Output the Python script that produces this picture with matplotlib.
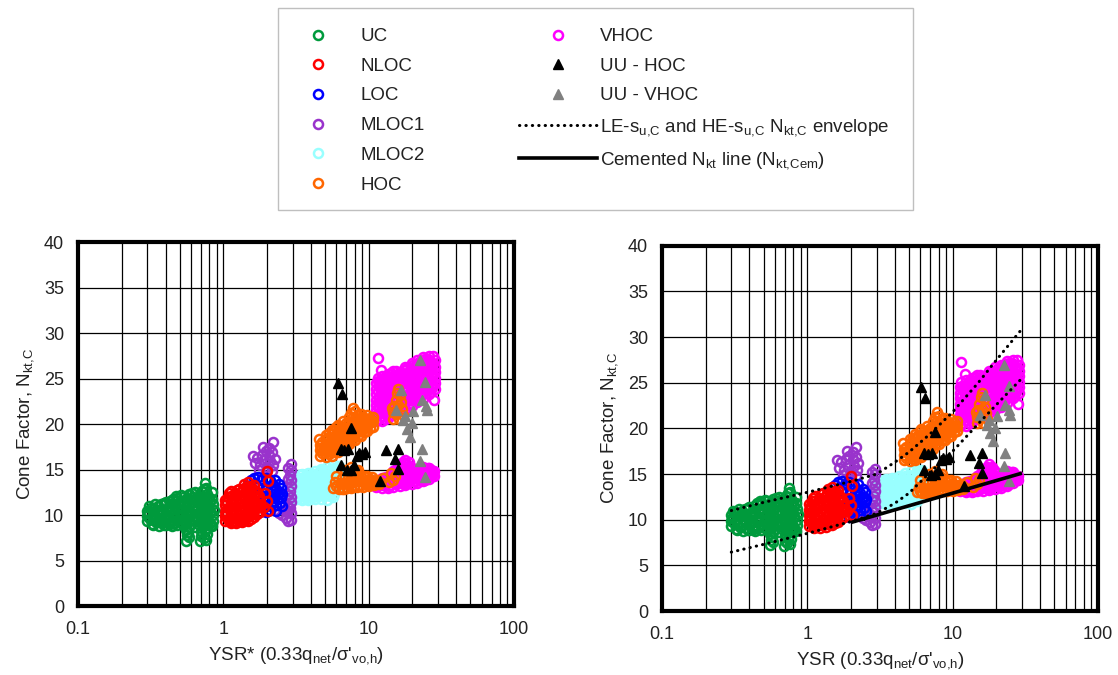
import numpy as np
import matplotlib
matplotlib.use("Agg")
import matplotlib.pyplot as plt
from matplotlib.lines import Line2D
from matplotlib.patches import Rectangle
from matplotlib.ticker import LogLocator, NullFormatter

plt.rcParams['font.family'] = ['Liberation Sans', 'DejaVu Sans']
plt.rcParams['mathtext.default'] = 'regular'

# --- data: (YSR, Nkt,C) pairs per soil class ---
uc = [
    (0.30, 9.3), (0.30, 9.9), (0.30, 10.5), (0.31, 11.0), (0.315, 9.6),
    (0.33, 8.9), (0.33, 9.5), (0.33, 10.1), (0.33, 10.7), (0.34, 11.2),
    (0.345, 9.2), (0.35, 10.4), (0.36, 8.8), (0.36, 9.4), (0.37, 10.0),
    (0.36, 10.6), (0.37, 11.2), (0.38, 9.1), (0.385, 10.3),
    (0.40, 8.9), (0.40, 9.5), (0.40, 10.1), (0.41, 10.7), (0.40, 11.4),
    (0.42, 9.2), (0.42, 11.0), (0.44, 8.8), (0.44, 9.4), (0.45, 10.0),
    (0.44, 10.6), (0.44, 11.2), (0.45, 11.8), (0.46, 9.7), (0.465, 10.9),
    (0.48, 8.9), (0.49, 9.5), (0.48, 10.1), (0.48, 10.7), (0.49, 11.3),
    (0.48, 11.9), (0.505, 9.2), (0.51, 10.4), (0.51, 11.6),
    (0.55, 7.2), (0.56, 7.8), (0.55, 8.4), (0.53, 8.9), (0.54, 9.5),
    (0.53, 10.1), (0.53, 10.7), (0.54, 11.3), (0.53, 12.0),
    (0.555, 9.0), (0.56, 10.2), (0.56, 11.5), (0.58, 8.7), (0.58, 9.3),
    (0.59, 9.9), (0.58, 10.5), (0.58, 11.1), (0.59, 11.7), (0.58, 12.3),
    (0.61, 9.6), (0.61, 10.8), (0.62, 12.0), (0.64, 8.7), (0.64, 9.3),
    (0.65, 9.9), (0.64, 10.5), (0.64, 11.1), (0.65, 11.7), (0.64, 12.5),
    (0.67, 9.0), (0.67, 10.2), (0.67, 11.4), (0.69, 7.1), (0.70, 7.7),
    (0.70, 8.3), (0.71, 8.9), (0.70, 9.5), (0.70, 10.1), (0.71, 10.7),
    (0.70, 11.3), (0.70, 11.9), (0.71, 12.6), (0.735, 9.5), (0.74, 10.7),
    (0.74, 12.0), (0.76, 7.3), (0.77, 7.9), (0.77, 8.6), (0.78, 9.2),
    (0.77, 9.8), (0.77, 10.4), (0.78, 11.0), (0.77, 11.6), (0.77, 12.3),
    (0.76, 13.0), (0.75, 13.5), (0.81, 9.1), (0.81, 10.3), (0.81, 11.5),
    (0.84, 8.8), (0.85, 9.4), (0.85, 10.0), (0.86, 10.6), (0.85, 11.2),
    (0.84, 11.8), (0.83, 12.5),
    (0.305, 10.2), (0.32, 10.8), (0.325, 9.0), (0.345, 9.8), (0.355, 11.0),
    (0.37, 9.7), (0.38, 10.6), (0.39, 11.3), (0.39, 8.9), (0.41, 9.8),
    (0.42, 10.4), (0.43, 11.5), (0.43, 9.0), (0.46, 9.1), (0.46, 10.3),
    (0.47, 11.6), (0.47, 12.1), (0.50, 9.8), (0.50, 11.0), (0.51, 12.2),
    (0.55, 9.3), (0.55, 10.5), (0.56, 11.9), (0.60, 9.0), (0.60, 10.2),
    (0.61, 11.4), (0.61, 12.4), (0.66, 9.6), (0.66, 10.8), (0.67, 12.0),
    (0.72, 9.2), (0.73, 10.4), (0.73, 11.6), (0.74, 12.9), (0.79, 9.5),
    (0.80, 10.7), (0.80, 11.9), (0.82, 8.9), (0.58, 7.6), (0.73, 7.5),
    (0.57, 8.1), (0.75, 8.2),
]

nloc = [
    (1.02, 9.3), (1.02, 9.9), (1.02, 10.5), (1.02, 11.1), (1.03, 11.7),
    (1.07, 9.6), (1.07, 10.8), (1.07, 12.0), (1.12, 9.1), (1.12, 9.7),
    (1.12, 10.3), (1.12, 10.9), (1.12, 11.5), (1.12, 12.1), (1.13, 12.6),
    (1.17, 9.4), (1.17, 10.6), (1.17, 11.8), (1.23, 9.1), (1.23, 9.7),
    (1.23, 10.3), (1.23, 10.9), (1.23, 11.5), (1.23, 12.1), (1.24, 12.8),
    (1.29, 9.4), (1.29, 10.6), (1.29, 11.8), (1.29, 12.9), (1.35, 9.2),
    (1.35, 9.8), (1.35, 10.4), (1.35, 11.0), (1.35, 11.6), (1.35, 12.2),
    (1.36, 12.9), (1.38, 13.4), (1.41, 9.5), (1.41, 10.7), (1.41, 11.9),
    (1.42, 13.1), (1.48, 9.4), (1.48, 10.0), (1.48, 10.6), (1.48, 11.2),
    (1.48, 11.8), (1.48, 12.4), (1.49, 13.0), (1.47, 13.6), (1.55, 9.6),
    (1.55, 10.8), (1.55, 12.0), (1.56, 13.2), (1.63, 9.8), (1.63, 10.4),
    (1.63, 11.0), (1.63, 11.6), (1.63, 12.2), (1.63, 12.8), (1.62, 13.3),
    (1.70, 10.1), (1.70, 11.3), (1.70, 12.5), (1.78, 10.3), (1.78, 10.9),
    (1.78, 11.5), (1.77, 12.1),
    (1.05, 10.2), (1.05, 11.4), (1.10, 9.3), (1.10, 12.4), (1.15, 10.0),
    (1.15, 11.2), (1.20, 9.4), (1.20, 12.4), (1.26, 10.0), (1.26, 11.2),
    (1.32, 9.5), (1.32, 12.5), (1.38, 10.1), (1.38, 11.3), (1.44, 9.8),
    (1.44, 12.6), (1.52, 10.3), (1.52, 11.5), (1.52, 12.8), (1.59, 10.1),
    (1.59, 11.3), (1.66, 12.5), (1.74, 11.0), (1.74, 12.0),
    (1.99, 14.8), (2.04, 13.7), (1.99, 11.6), (1.89, 10.9), (2.04, 10.5),
    (1.93, 12.4),
]

loc = [
    (1.45, 13.2), (1.55, 13.8), (1.62, 14.1), (1.72, 14.2), (1.82, 13.9),
    (1.95, 14.1), (2.10, 13.8), (2.20, 13.3), (1.60, 12.8), (1.70, 13.2),
    (1.85, 13.0), (2.00, 12.9), (2.15, 12.6), (2.30, 12.9), (2.45, 12.5),
    (1.75, 12.2), (1.90, 12.0), (2.05, 11.9), (2.20, 12.0), (2.35, 11.8),
    (2.50, 11.9), (1.85, 11.2), (2.00, 11.0), (2.15, 11.3), (2.30, 11.1),
    (2.45, 11.3), (2.55, 12.3), (2.40, 13.4), (2.10, 10.6), (2.30, 10.5),
    (1.95, 10.3), (2.25, 13.9), (2.50, 13.0), (2.38, 12.3), (2.22, 11.6),
    (2.52, 11.0),
]

mloc1 = [
    (2.18, 18.0), (2.05, 17.4), (1.95, 17.0), (1.85, 16.6), (2.05, 16.6),
    (2.15, 16.9), (1.70, 16.3), (1.90, 16.0), (2.10, 15.9), (1.65, 15.7),
    (1.80, 15.5), (2.00, 15.3), (2.20, 15.5), (1.75, 14.9), (1.95, 14.7),
    (2.15, 14.8), (1.60, 16.5), (2.25, 16.2), (1.88, 17.5),
    (2.90, 15.6), (2.92, 15.0), (2.88, 14.4), (2.90, 13.8), (2.93, 13.2),
    (2.87, 12.6), (2.90, 12.0), (2.92, 11.4), (2.88, 10.8), (2.90, 10.2),
    (2.90, 9.5), (2.80, 15.2), (2.80, 14.0), (2.80, 12.2), (2.80, 10.9),
    (2.25, 10.6), (2.40, 10.2), (2.55, 10.0), (2.70, 9.7), (2.60, 10.6),
    (2.75, 10.3), (2.45, 11.0), (2.80, 9.4),
]

mloc2 = [
    (2.90, 11.9), (2.90, 12.5), (2.90, 13.1), (2.90, 13.7), (2.90, 14.2),
    (3.05, 12.2), (3.05, 13.4), (3.20, 11.8), (3.20, 12.4), (3.20, 13.0),
    (3.20, 13.6), (3.20, 14.2), (3.35, 12.1), (3.35, 13.3), (3.35, 14.4),
    (3.50, 11.7), (3.50, 12.3), (3.50, 12.9), (3.50, 13.5), (3.50, 14.1),
    (3.50, 14.5), (3.65, 12.0), (3.65, 13.2), (3.70, 14.4), (3.85, 11.7),
    (3.85, 12.3), (3.85, 12.9), (3.85, 13.5), (3.85, 14.1), (3.85, 14.6),
    (4.05, 12.1), (4.05, 13.3), (4.05, 14.5), (4.25, 11.8), (4.25, 12.4),
    (4.25, 13.0), (4.25, 13.6), (4.25, 14.2), (4.25, 14.8), (4.45, 12.1),
    (4.45, 13.3), (4.45, 14.6), (4.70, 11.8), (4.70, 12.4), (4.70, 13.0),
    (4.70, 13.6), (4.70, 14.2), (4.70, 14.8), (4.70, 15.1), (4.90, 12.1),
    (4.90, 13.3), (4.90, 14.5), (5.15, 11.7), (5.15, 12.3), (5.15, 12.9),
    (5.15, 13.5), (5.15, 14.1), (5.15, 14.7), (5.15, 15.3), (5.40, 12.1),
    (5.40, 13.3), (5.40, 14.5), (5.65, 12.0), (5.65, 12.6), (5.65, 13.2),
    (5.65, 13.8), (5.65, 14.4), (5.65, 15.0), (5.65, 15.5), (5.90, 13.4),
    (5.90, 14.7), (6.20, 13.1), (6.20, 13.7), (6.20, 14.3), (6.20, 14.9),
    (6.20, 15.4),
    (2.95, 12.8), (3.10, 11.9), (3.10, 13.1), (3.10, 14.0), (3.28, 12.7),
    (3.28, 13.9), (3.42, 11.8), (3.42, 13.0), (3.58, 12.6), (3.58, 13.8),
    (3.75, 11.9), (3.75, 13.0), (3.95, 12.6), (3.95, 13.8), (4.15, 12.0),
    (4.15, 13.0), (4.35, 12.7), (4.35, 13.9), (4.60, 12.2), (4.60, 13.4),
    (4.60, 14.4), (4.80, 12.7), (4.80, 13.9), (5.00, 12.2), (5.00, 13.4),
    (5.00, 14.9), (5.30, 12.8), (5.30, 13.9), (5.50, 12.4), (5.50, 14.1),
    (5.80, 12.3), (5.80, 13.0), (5.80, 14.2), (5.80, 15.2), (6.05, 13.6),
    (6.05, 15.0), (6.30, 14.0),
]

hoc = [
    # upper band
    (4.60, 16.5), (4.60, 17.1), (4.60, 17.7), (4.55, 18.4), (4.80, 16.8),
    (4.80, 18.0), (5.05, 16.4), (5.05, 17.0), (5.05, 17.6), (5.05, 18.2),
    (5.05, 18.8), (5.30, 16.7), (5.30, 17.9), (5.30, 19.0), (5.55, 16.5),
    (5.55, 17.1), (5.55, 17.7), (5.55, 18.3), (5.55, 18.9), (5.55, 19.4),
    (5.80, 16.9), (5.80, 18.1), (5.80, 19.3), (6.10, 16.9), (6.10, 17.5),
    (6.10, 18.1), (6.10, 18.7), (6.10, 19.3), (6.10, 19.9), (6.40, 17.3),
    (6.40, 18.5), (6.40, 19.7), (6.70, 17.3), (6.70, 17.9), (6.70, 18.5),
    (6.70, 19.1), (6.70, 19.7), (6.70, 20.3), (7.00, 17.7), (7.00, 18.9),
    (7.00, 20.1), (7.35, 17.8), (7.35, 18.4), (7.35, 19.0), (7.35, 19.6),
    (7.35, 20.2), (7.35, 20.8), (7.70, 18.3), (7.70, 19.5), (7.70, 20.7),
    (7.80, 21.8), (8.10, 18.3), (8.10, 18.9), (8.10, 19.5), (8.10, 20.1),
    (8.10, 20.7), (8.10, 21.4), (8.50, 18.7), (8.50, 19.9), (8.50, 21.0),
    (8.90, 18.7), (8.90, 19.3), (8.90, 19.9), (8.90, 20.5), (8.90, 21.1),
    (9.30, 19.1), (9.30, 20.3), (9.80, 19.2), (9.80, 19.8), (9.80, 20.4),
    (9.80, 21.0), (10.2, 19.6), (10.2, 20.7), (10.7, 19.7), (10.7, 20.3),
    (10.7, 20.8),
    (4.70, 17.4), (4.90, 17.4), (5.20, 16.9), (5.20, 18.5), (5.40, 17.4),
    (5.70, 17.4), (5.70, 18.6), (5.90, 17.6), (5.95, 19.7), (6.25, 17.9),
    (6.25, 19.1), (6.55, 18.0), (6.55, 19.3), (6.85, 18.4), (6.90, 19.6),
    (7.20, 18.1), (7.20, 19.3), (7.50, 18.7), (7.50, 19.9), (7.55, 21.2),
    (7.90, 18.7), (7.90, 19.9), (8.30, 19.2), (8.30, 20.4), (8.70, 19.4),
    (8.70, 20.6), (9.10, 19.6), (9.10, 20.8), (9.50, 19.6), (9.50, 20.6),
    (10.0, 20.1), (10.4, 20.2),
    # lower band
    (5.70, 13.0), (5.90, 13.6), (6.20, 12.9), (6.40, 13.5), (6.60, 14.1),
    (6.80, 12.9), (7.00, 13.5), (7.20, 14.1), (7.40, 14.7), (7.50, 13.0),
    (7.80, 13.6), (8.00, 14.2), (8.20, 14.8), (8.30, 13.1), (8.60, 13.7),
    (8.90, 14.3), (9.10, 13.1), (9.40, 13.7), (9.70, 14.3), (10.0, 13.2),
    (10.3, 13.8), (10.6, 14.2), (11.0, 13.4), (11.4, 13.9), (7.60, 15.3),
    (8.50, 15.0), (6.00, 14.3), (6.90, 15.0), (12.0, 13.6), (12.5, 14.1),
    (6.00, 13.2), (6.50, 12.9), (6.70, 13.4), (7.10, 13.0), (7.30, 13.6),
    (7.60, 14.2), (7.90, 13.1), (8.10, 13.7), (8.40, 14.3), (8.70, 13.2),
    (9.00, 13.8), (9.30, 14.3), (9.60, 13.4), (9.90, 13.9), (10.2, 13.4),
    (10.5, 13.8), (10.8, 13.3), (11.2, 13.6), (11.7, 13.4), (7.90, 14.9),
    # inside the VHOC cloud
    (14.6, 20.6), (14.8, 21.3), (15.0, 22.0), (15.3, 22.7), (15.6, 23.4),
    (16.0, 23.9), (16.4, 23.2), (16.6, 22.4), (16.9, 21.7), (17.1, 21.0),
    (16.2, 20.6), (15.5, 21.1), (15.9, 22.1), (14.4, 21.8),
    (14.3, 14.6), (14.7, 13.9), (15.2, 14.3), (13.8, 13.6),
]

vhoc = [
    # upper cloud
    (11.2, 20.3), (11.2, 20.9), (11.2, 21.5), (11.2, 22.1), (11.2, 22.7),
    (11.2, 23.3), (11.2, 23.9), (11.3, 24.5), (11.5, 25.1), (11.5, 27.3),
    (11.8, 20.6), (11.8, 21.8), (11.8, 23.0), (11.8, 24.2),
    (12.3, 20.3), (12.3, 20.9), (12.3, 21.5), (12.3, 22.1), (12.3, 22.7),
    (12.3, 23.3), (12.3, 23.9), (12.3, 24.5), (12.4, 25.3), (12.1, 26.0),
    (12.9, 20.6), (12.9, 21.8), (12.9, 23.0), (12.9, 24.2), (12.9, 25.2),
    (13.5, 20.7), (13.5, 21.3), (13.5, 21.9), (13.5, 22.5), (13.5, 23.1),
    (13.5, 23.7), (13.5, 24.3), (13.5, 24.9), (13.5, 25.5),
    (14.1, 21.0), (14.1, 22.2), (14.1, 23.4), (14.1, 24.6), (14.2, 25.6),
    (14.8, 21.0), (14.8, 22.4), (14.8, 23.8), (14.8, 24.5), (14.8, 25.2),
    (14.8, 25.8), (15.5, 24.8), (15.5, 25.8),
    (16.3, 21.4), (16.3, 24.5), (16.3, 25.1), (16.3, 25.7), (17.0, 24.4),
    (17.0, 25.6), (17.9, 21.7), (17.9, 22.3), (17.9, 22.9), (17.9, 23.5),
    (17.9, 24.1), (17.9, 24.7), (17.9, 25.3), (17.9, 25.9), (17.9, 26.3),
    (18.8, 22.1), (18.8, 23.3), (18.8, 24.5), (18.8, 25.7),
    (19.7, 22.0), (19.7, 22.6), (19.7, 23.2), (19.7, 23.8), (19.7, 24.4),
    (19.7, 25.0), (19.7, 25.6), (19.7, 26.2), (19.7, 26.7),
    (20.6, 22.5), (20.6, 23.7), (20.6, 24.9), (20.6, 26.1),
    (21.6, 22.4), (21.6, 23.0), (21.6, 23.6), (21.6, 24.2), (21.6, 24.8),
    (21.6, 25.4), (21.6, 26.0), (21.6, 26.6), (21.6, 27.0),
    (22.7, 22.9), (22.7, 24.1), (22.7, 25.3), (22.7, 26.5),
    (23.8, 22.8), (23.8, 23.4), (23.8, 24.0), (23.8, 24.6), (23.8, 25.2),
    (23.8, 25.8), (23.8, 26.4), (23.8, 27.0), (23.8, 27.4),
    (24.9, 23.4), (24.9, 24.6), (24.9, 25.8), (24.9, 27.0),
    (26.1, 23.3), (26.1, 23.9), (26.1, 24.5), (26.1, 25.1), (26.1, 25.7),
    (26.1, 26.3), (26.1, 26.9), (26.1, 27.5), (27.3, 24.0), (27.3, 25.2),
    (27.3, 26.4), (27.6, 27.5), (28.5, 23.9), (28.5, 24.5), (28.5, 25.1),
    (28.5, 25.7), (28.5, 26.3), (28.5, 27.0), (28.3, 22.7),
    (11.5, 21.2), (11.5, 22.4), (11.5, 23.6), (11.6, 24.7), (12.0, 21.2),
    (12.0, 22.4), (12.1, 23.6), (12.1, 24.8), (12.6, 21.2), (12.6, 22.4),
    (12.6, 23.6), (12.6, 24.8), (13.2, 21.2), (13.2, 22.4), (13.2, 23.6),
    (13.2, 24.6), (13.8, 21.6), (13.8, 22.8), (13.8, 24.0), (13.8, 25.2),
    (14.4, 22.8), (14.5, 24.1), (14.5, 25.2), (15.2, 24.3), (15.2, 25.4),
    (15.9, 24.8), (16.7, 25.0), (17.4, 22.0), (17.4, 23.0), (17.4, 24.0),
    (17.4, 25.2), (17.4, 25.9), (18.3, 22.6), (18.3, 23.8), (18.3, 25.0),
    (18.3, 26.2), (19.2, 22.3), (19.2, 23.5), (19.2, 24.7), (19.2, 25.9),
    (20.1, 22.9), (20.1, 24.1), (20.1, 25.3), (20.1, 26.5), (21.1, 22.8),
    (21.1, 24.0), (21.1, 25.2), (21.1, 26.4), (22.2, 23.3), (22.2, 24.5),
    (22.2, 25.7), (22.2, 26.8), (23.2, 23.6), (23.2, 24.8), (23.2, 26.0),
    (23.2, 27.1), (24.4, 23.7), (24.4, 24.9), (24.4, 26.1), (24.4, 27.2),
    (25.5, 23.7), (25.5, 24.9), (25.5, 26.1), (25.5, 27.2), (26.7, 24.3),
    (26.7, 25.5), (26.7, 26.7), (27.9, 24.3), (27.9, 25.5), (27.9, 26.7),
    # lower cloud
    (11.3, 13.1), (11.3, 13.6), (11.8, 13.3), (12.3, 13.0), (12.3, 13.6),
    (12.3, 14.1), (12.9, 13.3), (12.9, 13.9), (13.5, 13.0), (13.5, 13.6),
    (13.5, 14.2), (14.1, 13.3), (14.8, 13.1), (14.8, 13.7), (14.8, 14.3),
    (14.8, 14.8), (15.5, 13.4), (15.5, 14.6), (16.3, 13.2), (16.3, 13.8),
    (16.3, 14.4), (16.3, 15.0), (16.3, 15.6), (17.1, 13.5), (17.1, 14.7),
    (17.1, 15.8), (17.9, 13.3), (17.9, 13.9), (17.9, 14.5), (17.9, 15.1),
    (17.9, 15.7), (17.9, 16.1), (18.8, 13.6), (18.8, 14.8), (18.8, 15.8),
    (19.7, 13.4), (19.7, 14.0), (19.7, 14.6), (19.7, 15.2), (20.6, 13.7),
    (20.6, 14.8), (21.6, 13.5), (21.6, 14.1), (21.6, 14.7), (22.7, 13.9),
    (22.7, 15.0), (23.8, 13.7), (23.8, 14.3), (23.8, 14.9), (23.8, 15.3),
    (24.9, 14.1), (24.9, 15.1), (26.1, 14.0), (26.1, 14.6), (26.1, 15.2),
    (27.3, 14.4), (28.3, 14.3), (28.3, 14.8),
    (11.6, 13.4), (12.0, 13.8), (12.6, 13.3), (12.6, 14.0), (13.2, 13.6),
    (13.2, 14.2), (13.8, 13.2), (13.8, 13.9), (14.4, 13.6), (14.4, 14.3),
    (15.1, 13.7), (15.2, 14.9), (15.9, 13.5), (15.9, 14.2), (15.9, 15.3),
    (16.7, 13.8), (16.7, 15.0), (17.5, 13.6), (17.5, 14.2), (17.5, 15.4),
    (18.3, 13.5), (18.3, 14.2), (18.3, 15.3), (19.2, 13.8), (19.2, 14.4),
    (19.2, 15.4), (20.1, 14.2), (20.1, 15.1), (21.1, 13.7), (21.1, 14.5),
    (22.2, 14.0), (22.2, 14.6), (23.2, 14.0), (23.2, 14.7), (24.4, 13.9),
    (24.4, 14.6), (25.5, 14.3), (25.5, 15.2), (26.7, 14.3), (26.7, 14.9),
    (27.8, 14.6),
]

uu_hoc = [
    (6.1, 24.5), (6.5, 23.3), (7.6, 19.6), (6.4, 17.3), (7.2, 17.3),
    (6.8, 17.2), (8.6, 16.8), (9.5, 16.9), (9.0, 16.7), (8.3, 16.5),
    (6.4, 15.5), (7.1, 14.9), (7.9, 15.5), (7.6, 15.0), (11.9, 13.7),
    (13.2, 17.1), (15.9, 17.3), (15.1, 16.2), (15.9, 15.1),
]

uu_vhoc = [
    (22.5, 27.0), (24.3, 24.6), (16.8, 23.7), (23.1, 22.6), (25.0, 21.5),
    (20.2, 21.4), (15.5, 21.5), (17.2, 20.4), (18.2, 19.5), (19.1, 18.6),
    (19.7, 20.1), (23.1, 17.3), (22.5, 15.9), (24.3, 14.2), (24.6, 22.0),
    (17.8, 20.9),
]

# envelope and cemented lines (right panel)
env_x = [0.3, 0.5, 1, 2, 3, 4, 5, 7, 10, 15, 20, 30]
env_hi = [11.0, 11.9, 13.0, 14.2, 15.0, 16.3, 17.4, 19.4, 21.8, 25.0, 27.5, 30.9]
env_lo = [6.45, 7.3, 8.5, 9.8, 10.7, 11.8, 12.9, 15.2, 17.5, 20.5, 22.6, 25.5]
cem_x = [2, 30]
cem_y = [9.7, 15.1]

x_ticks = [0.1, 1, 10, 100]
x_tick_labels = ['0.1', '1', '10', '100']
y_ticks = list(range(0, 41, 5))

circle_sets = [
    ('UC', uc, '#009A3C'),
    ('NLOC', nloc, '#FF0000'),
    ('LOC', loc, '#0000FF'),
    ('MLOC1', mloc1, '#9933CC'),
    ('MLOC2', mloc2, '#99FFFF'),
    ('HOC', hoc, '#FF6600'),
    ('VHOC', vhoc, '#FF00FF'),
]
colors = {name: c for name, _, c in circle_sets}
data = {name: np.array(pts) for name, pts, _ in circle_sets}
draw_order = ['MLOC2', 'MLOC1', 'LOC', 'NLOC', 'UC', 'VHOC', 'HOC']

MS, MEW = 6.5, 1.8
TXT = '#222222'


def setup_axes(ax, xlabel):
    ax.set_xscale('log')
    ax.set_xlim(0.1, 100)
    ax.set_ylim(0, 40)
    ax.set_xticks(x_ticks)
    ax.set_xticklabels(x_tick_labels)
    ax.xaxis.set_minor_locator(LogLocator(base=10, subs=np.arange(2, 10)))
    ax.xaxis.set_minor_formatter(NullFormatter())
    ax.set_yticks(y_ticks)
    ax.set_axisbelow(True)
    ax.grid(True, which='both', axis='x', color='black', lw=0.9)
    ax.grid(True, which='major', axis='y', color='black', lw=0.9)
    ax.tick_params(which='both', length=0, labelsize=13, colors=TXT)
    ax.tick_params(axis='x', pad=11)
    ax.tick_params(axis='y', pad=10)
    for s in ax.spines.values():
        s.set_linewidth(3)
        s.set_color('black')
    ax.set_ylabel('Cone Factor, N$_{kt{,}C}$', fontsize=13.5, color=TXT, labelpad=6)
    ax.set_xlabel(xlabel, fontsize=13.5, color=TXT, labelpad=5)


def draw_points(ax):
    for name in draw_order:
        pts = data[name]
        ax.plot(pts[:, 0], pts[:, 1], ls='none', marker='o', mfc='none',
                mec=colors[name], ms=MS, mew=MEW, zorder=2)
    t = np.array(uu_hoc)
    ax.plot(t[:, 0], t[:, 1], ls='none', marker='^', color='black', ms=7, zorder=3)
    t = np.array(uu_vhoc)
    ax.plot(t[:, 0], t[:, 1], ls='none', marker='^', color='#808080', ms=7, zorder=3)


fig = plt.figure(figsize=(11.18, 6.75), dpi=100)
ax1 = fig.add_axes([0.0698, 0.1022, 0.390, 0.539])
ax2 = fig.add_axes([0.5921, 0.0948, 0.390, 0.541])

setup_axes(ax1, "YSR* (0.33q$_{net}$/σ'$_{vo{,}h}$)")
setup_axes(ax2, "YSR (0.33q$_{net}$/σ'$_{vo{,}h}$)")
draw_points(ax1)
draw_points(ax2)

dotted = dict(color='black', lw=2.2, ls=(0, (0.1, 2.0)), dash_capstyle='round')
ax2.plot(env_x, env_hi, zorder=5, **dotted)
ax2.plot(env_x, env_lo, zorder=5, **dotted)
ax2.plot(cem_x, cem_y, color='black', lw=2.6, solid_capstyle='butt', zorder=5)

# legend: circles in the first column, triangles and lines in the second
handles, labels = [], []
for name in ['UC', 'NLOC', 'LOC', 'MLOC1', 'MLOC2', 'HOC', 'VHOC']:
    handles.append(Line2D([], [], ls='none', marker='o', mfc='none',
                          mec=colors[name], ms=MS, mew=MEW))
    labels.append(name)
handles.append(Line2D([], [], ls='none', marker='^', color='black', ms=7))
labels.append('UU - HOC')
handles.append(Line2D([], [], ls='none', marker='^', color='#808080', ms=7))
labels.append('UU - VHOC')
handles.append(Line2D([], [], **dotted))
labels.append('LE-s$_{u{,}C}$ and HE-s$_{u{,}C}$ N$_{kt{,}C}$ envelope')
handles.append(Line2D([], [], color='black', lw=2.6))
labels.append('Cemented N$_{kt}$ line (N$_{kt{,}Cem}$)')

W, H = 1118, 675
leg = fig.legend(handles, labels, ncol=2, loc='upper left',
                 bbox_to_anchor=(279 / W, 1 - 28 / H), frameon=False,
                 fontsize=13.5, handlelength=4.2, handletextpad=0.15,
                 labelspacing=0.67, columnspacing=5.0,
                 borderpad=0, borderaxespad=0)
for txt in leg.get_texts():
    txt.set_color(TXT)

fig.add_artist(Rectangle((278 / W, 1 - 210 / H), (913 - 278) / W, 202 / H,
                         transform=fig.transFigure, fill=False,
                         ec='#BFBFBF', lw=1.0))

fig.savefig('out.png', dpi=100)
